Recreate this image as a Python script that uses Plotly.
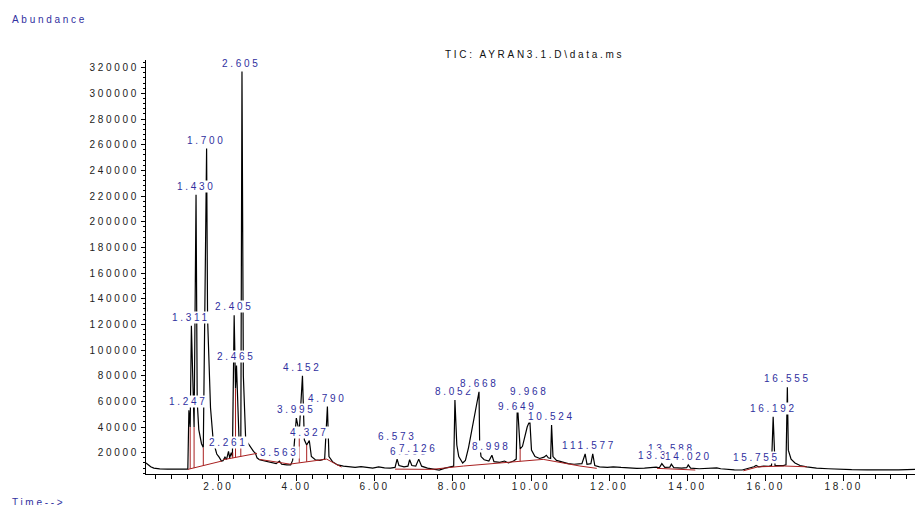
import plotly.graph_objects as go

# ---------------- data ----------------
# TIC trace: retention time (min) and abundance (counts)
tic_time = [0.15, 0.20, 0.27, 0.35, 0.50, 0.70, 0.90, 1.10, 1.22,
            1.247, 1.28, 1.311, 1.38, 1.430, 1.46, 1.50, 1.57, 1.616,
            1.700, 1.725, 1.80, 1.87, 1.92, 1.96, 2.02, 2.08, 2.12, 2.17,
            2.21, 2.261, 2.29, 2.33, 2.36, 2.405, 2.44, 2.465, 2.53, 2.575,
            2.605, 2.64, 2.70, 2.76, 2.83, 2.90, 2.95, 2.99, 3.05, 3.20,
            3.35, 3.48, 3.563, 3.62, 3.75, 3.85, 3.90, 3.93, 3.995, 4.07,
            4.152, 4.20, 4.26, 4.327, 4.38, 4.48, 4.60, 4.72, 4.790, 4.83,
            4.92, 5.05, 5.20, 5.35, 5.50, 5.65, 5.80, 5.95, 6.10, 6.25,
            6.40, 6.52, 6.573, 6.62, 6.75, 6.85, 6.893, 6.95, 7.05, 7.126,
            7.20, 7.35, 7.50, 7.65, 7.80, 7.95, 8.02, 8.052, 8.10, 8.15,
            8.25, 8.32, 8.40, 8.668, 8.685, 8.72, 8.80, 8.92, 8.998, 9.05,
            9.20, 9.32, 9.42, 9.55, 9.62, 9.649, 9.72, 9.78, 9.90, 9.968,
            10.01, 10.10, 10.22, 10.33, 10.39, 10.44, 10.50, 10.524, 10.56,
            10.65, 10.80, 10.95, 11.10, 11.30, 11.383, 11.43, 11.53, 11.577,
            11.63, 11.75, 11.95, 12.10, 12.30, 12.50, 12.70, 12.90, 13.10,
            13.20, 13.28, 13.344, 13.42, 13.55, 13.588, 13.65, 13.85, 13.98,
            14.020, 14.08, 14.30, 14.50, 14.75, 14.85, 15.00, 15.20, 15.40,
            15.55, 15.70, 15.755, 15.82, 15.95, 16.08, 16.15, 16.192, 16.24,
            16.35, 16.45, 16.52, 16.555, 16.58, 16.65, 16.75, 16.88, 17.05,
            17.30, 17.60, 17.90, 18.20, 18.60, 19.00, 19.40, 19.82]
tic_abund = [12000, 10500, 9000, 8000, 7400, 7200, 7000, 7000, 7200,
             53000, 40000, 119000, 40000, 221000, 60000, 38000, 27000, 24000,
             257000, 125000, 55000, 29000, 22000, 19000, 16500, 13500, 13800, 16500,
             14800, 21000, 16000, 20000, 17000, 127000, 70000, 88000, 30000, 24000,
             317000, 80000, 30000, 27000, 24000, 21000, 19500, 16000, 14500, 13500,
             12500, 11500, 13500, 11000, 10500, 10500, 14000, 22000, 47000, 36000,
             80000, 30000, 26000, 29500, 17000, 14500, 14000, 15000, 56000, 17000,
             13000, 10500, 9500, 9000, 8500, 9200, 8500, 8000, 9000, 8200,
             8000, 8500, 15000, 10000, 9000, 9500, 14500, 10000, 9500, 15000,
             9500, 8000, 7200, 6500, 8000, 9000, 9500, 61000, 26000, 17000,
             12000, 14000, 24000, 67500, 26000, 17000, 14500, 13500, 18000, 13000,
             12500, 13500, 12000, 13500, 15000, 59000, 23000, 25000, 40000, 45000,
             22000, 17000, 15500, 16500, 18000, 16000, 15500, 41500, 17000,
             14000, 12500, 11500, 11000, 11500, 19000, 11000, 11500, 19000,
             10000, 9000, 8500, 9000, 8500, 8000, 7800, 8000, 8300,
             8800, 8200, 11500, 8500, 8800, 11000, 8300, 8000, 8300,
             10500, 8000, 7500, 7600, 8200, 7500, 7000, 6600, 6500,
             7500, 9000, 10000, 9000, 9500, 9300, 10000, 48000, 10000,
             9800, 10000, 10500, 71000, 22000, 15000, 12000, 10000, 9000,
             8000, 7500, 7000, 6800, 6600, 6500, 6600, 7000]

# integration baselines (red)
base_time = [[1.22, 2.09], [2.12, 2.99], [3.05, 3.83], [3.83, 4.77, 5.15],
             [6.52, 7.46, 8.27, 9.63, 10.31, 11.25, 11.68], [13.22, 14.20],
             [15.43, 15.81, 16.49, 17.05]]
base_abund = [[7000, 13500], [14500, 19500], [14800, 11100], [11100, 15000, 8800],
              [7200, 7000, 9600, 12700, 14800, 9600, 7800], [7800, 6500],
              [5900, 9000, 9600, 9000]]

# peak split (drop) lines: time, baseline value, signal value
drop_time = [1.28, 1.38, 1.616, 2.29, 2.37, 2.44, 2.575, 4.07, 4.26, 9.72]
drop_low = [7500, 8000, 9800, 15200, 15700, 16200, 17000, 12200, 12900, 13300]
drop_high = [40000, 40000, 24000, 16000, 20000, 70000, 24000, 36000, 26000, 23000]

# labelled peaks: retention time and apex abundance
peak_rt = [1.247, 1.311, 1.430, 1.700, 2.261, 2.405, 2.465, 2.605, 3.563,
           3.995, 4.152, 4.327, 4.790, 6.573, 6.893, 7.126, 8.052, 8.668,
           8.998, 9.649, 9.968, 10.524, 11.383, 11.577, 13.588, 13.344,
           14.020, 15.755, 16.192, 16.555]
peak_apex = [53000, 119000, 221000, 257000, 21000, 127000, 88000, 317000, 13500,
             47000, 80000, 29500, 56000, 15000, 14500, 15000, 61000, 67500,
             18000, 59000, 45000, 41500, 19000, 19000, 11000, 11500,
             10500, 10000, 48000, 71000]

y_ticks = list(range(20000, 320001, 20000))
x_ticks = [2, 4, 6, 8, 10, 12, 14, 16, 18]

# ---------------- figure ----------------
BLUE = "#3030a0"
RED = "#a82020"

fig = go.Figure()
fig.add_trace(go.Scatter(x=tic_time, y=tic_abund, mode="lines",
                         line=dict(color="black", width=1.2), hoverinfo="skip"))

bx, by = [], []
for ts, vs in zip(base_time, base_abund):
    bx += ts + [None]
    by += vs + [None]
for t, lo, hi in zip(drop_time, drop_low, drop_high):
    bx += [t, t, None]
    by += [lo, hi, None]
fig.add_trace(go.Scatter(x=bx, y=by, mode="lines", connectgaps=False,
                         line=dict(color=RED, width=1), hoverinfo="skip"))

# label placement tweaks (label bottom, data units) where the reference displaces them
label_y = {6.573: 27500, 7.126: 18500, 9.649: 51000, 9.968: 62500, 13.588: 18000}

annotations = []
for rt, ap in zip(peak_rt, peak_apex):
    annotations.append(dict(
        x=rt, y=label_y.get(rt, ap), xref="x", yref="y",
        text=f"{rt:.3f}", showarrow=False, yanchor="bottom", xanchor="center",
        yshift=2 if rt not in label_y else 0,
        bgcolor="white", borderpad=0, font=dict(color=BLUE)))

W_PLOT = 915 - 146
H_PLOT = 474 - 60
annotations.append(dict(x=(10 - 146) / W_PLOT, y=(474 - 19.5) / H_PLOT, xref="paper", yref="paper",
                        text="Abundance", showarrow=False, xanchor="left", yanchor="middle",
                        font=dict(color=BLUE)))
annotations.append(dict(x=(10 - 146) / W_PLOT, y=(474 - 502) / H_PLOT, xref="paper", yref="paper",
                        text="Time-->", showarrow=False, xanchor="left", yanchor="middle",
                        font=dict(color=BLUE)))
annotations.append(dict(x=(534 - 146) / W_PLOT, y=(474 - 54.5) / H_PLOT, xref="paper", yref="paper",
                        text="TIC: AYRAN3.1.D\\data.ms", showarrow=False, xanchor="center",
                        yanchor="middle", font=dict(color="#111")))

fig.update_layout(
    width=915, height=505,
    margin=dict(l=146, r=0, t=60, b=31),
    paper_bgcolor="white", plot_bgcolor="white",
    font=dict(family="Liberation Sans, Arial, sans-serif", size=10, color="#222"),
    showlegend=False,
    annotations=annotations,
)
fig.update_xaxes(
    range=[0.15, 19.82], tickmode="array", tickvals=x_ticks,
    ticktext=[f"{v:.2f}" for v in x_ticks],
    showline=True, linecolor="black", linewidth=1, showgrid=False, zeroline=False,
    ticks="outside", ticklen=6, tickcolor="black", tickwidth=1, ticklabelstandoff=-3,
    minor=dict(dtick=0.4, tick0=0, ticks="outside", ticklen=4, tickcolor="black", showgrid=False),
)
fig.update_yaxes(
    range=[3400, 326000], tickmode="array", tickvals=y_ticks,
    ticktext=[str(v) for v in y_ticks],
    showline=True, linecolor="black", linewidth=1, showgrid=False, zeroline=False,
    ticks="outside", ticklen=4, tickcolor="black", tickwidth=1,
    minor=dict(dtick=4000, tick0=0, ticks="outside", ticklen=2, tickcolor="black", showgrid=False),
)

post = """
var st=document.createElement('style');
st.textContent='html,body{margin:0;padding:0;overflow:hidden;} text{letter-spacing:2.7px;}';
document.head.appendChild(st);
var gd=document.getElementById('{plot_id}');
Plotly.relayout(gd,{'font.size':10.001});
"""
fig.write_html("out.html", config={"displayModeBar": False}, post_script=post)
